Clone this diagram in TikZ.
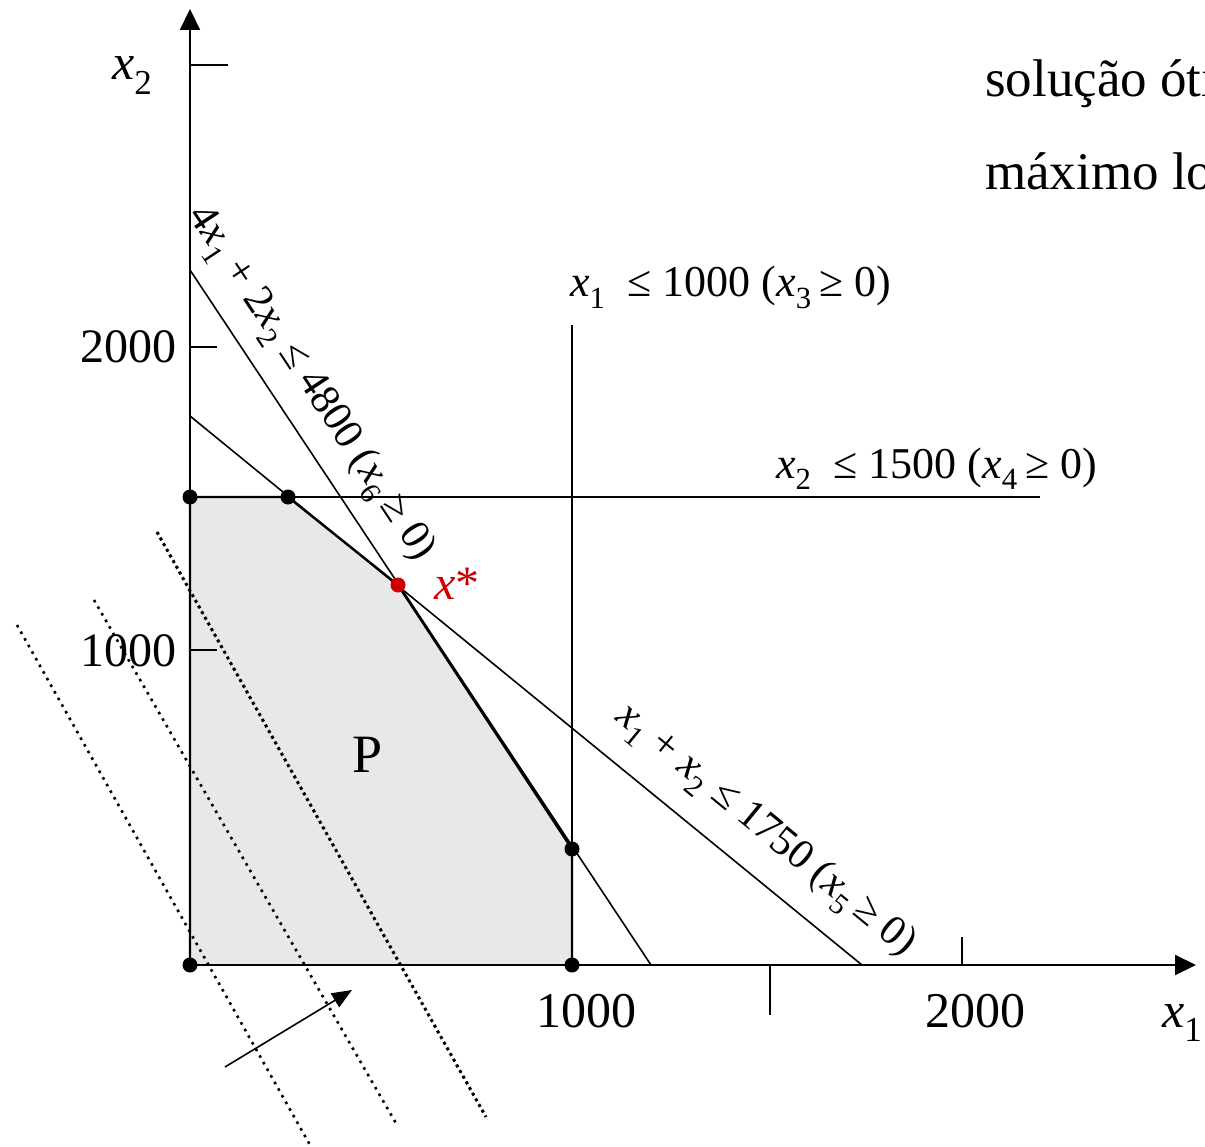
\documentclass[tikz,border=0pt]{standalone}
\usepackage{fontspec}
\setmainfont{Liberation Serif}
\usetikzlibrary{arrows.meta}
\definecolor{optred}{HTML}{CC0000}
\newcommand{\vx}[1]{\textit{x}\textsubscript{#1}}
\begin{document}
\begin{tikzpicture}[x=1pt,y=-1pt,
	lbl/.style={font=\fontsize{44}{52}\selectfont,inner sep=0pt},
	slbl/.style={font=\fontsize{42}{48}\selectfont,inner sep=0pt},
	num/.style={font=\fontsize{50}{60}\selectfont,inner sep=0pt},
	vtx/.style={circle,fill,inner sep=0pt,minimum size=15pt},
	cline/.style={line width=1.6pt},
	pline/.style={line width=2.4pt,line join=round},
	axis/.style={line width=2pt,-{Triangle[length=21pt,width=20pt]}},
	lvlA/.style={line width=3pt,dash pattern=on 3pt off 3.5pt},
	lvlB/.style={line width=2.6pt,dash pattern=on 2.6pt off 5pt}]
	\useasboundingbox (0,0) rectangle (1205,1147);
	\clip (0,0) rectangle (1205,1147);
	% vertices of P
	\coordinate (O) at (190,965); \coordinate (A) at (190,497); \coordinate (B) at (288,497);
	\coordinate (xs) at (398,585); \coordinate (C) at (572,849); \coordinate (D) at (572,965);
	\fill[black!9] (O)--(A)--(B)--(xs)--(C)--(D)--cycle;
	% level sets of the objective
	\draw[lvlA] (157,532)--(486,1117);
	\draw[lvlB] (94,600)--(397,1125);
	\draw[lvlB] (17,625)--(310,1145);
	\draw[line width=1.6pt,-{Triangle[length=20pt,width=16pt]}] (225,1067)--(352,990);
	% constraints
	\draw[cline] (190,416)--(862,965);
	\draw[cline] (190,270)--(651,965);
	\draw[cline] (572,325)--(572,965);
	\draw[cline] (190,497)--(1040,497);
	\draw[pline] (O)--(A)--(B)--(xs)--(C)--(D);
	% axes and ticks
	\draw[axis] (O)--(1196,965);
	\draw[axis] (O)--(190,9);
	\draw[cline] (190,65)--(228,65) (190,347)--(217,347) (190,650)--(217,650);
	\draw[cline] (962,937)--(962,965) (770,965)--(770,1015);
	\foreach \x/\gt in {586/1000,975/2000}\path (\x,1011) node[num](t\gt){\gt};
	\foreach \y/\gt in {347/2000,651/1000}\path (177,\y) node[num,anchor=east,font=\fontsize{48}{56}\selectfont](s\gt){\gt};
	\path (112,80) node[num,anchor=base west](lx2){\vx{2}};
	\path (1162,1027) node[num,anchor=base west](lx1){\vx{1}};
	\foreach \p in {O,A,B,C,D}\node[vtx](v\p) at (\p){};
	\node[vtx,fill=optred](vxs) at (xs){};
	% labels
	\path (457,584) node[num,text=optred,font=\fontsize{48}{56}\selectfont](lxs){\textit{x}*};
	\path (368,755) node[num,font=\fontsize{54}{60}\selectfont](lP){P};
	\path (570,297) node[lbl,anchor=base west](lc3){\vx{1}\ \ ≤ 1000 (\vx{3}\,≥ 0)};
	\path (776,478) node[lbl,anchor=base west](lc4){\vx{2}\ \ ≤ 1500 (\vx{4}\,≥ 0)};
	\path (310,384) node[slbl,rotate=-56.5](lc6){4\vx{1} + 2\vx{2} ≤ 4800 (\vx{6}\,≥ 0)};
	\path (765,831) node[slbl,rotate=-39.3](lc5){\vx{1} + \vx{2} ≤ 1750 (\vx{5}\,≥ 0)};
	\path (985,97) node[lbl,anchor=base west,font=\fontsize{53}{60}\selectfont](lt1){solução óti};
	\path (985,190) node[lbl,anchor=base west,font=\fontsize{53}{60}\selectfont](lt2){máximo lo};
\end{tikzpicture}
\end{document}
